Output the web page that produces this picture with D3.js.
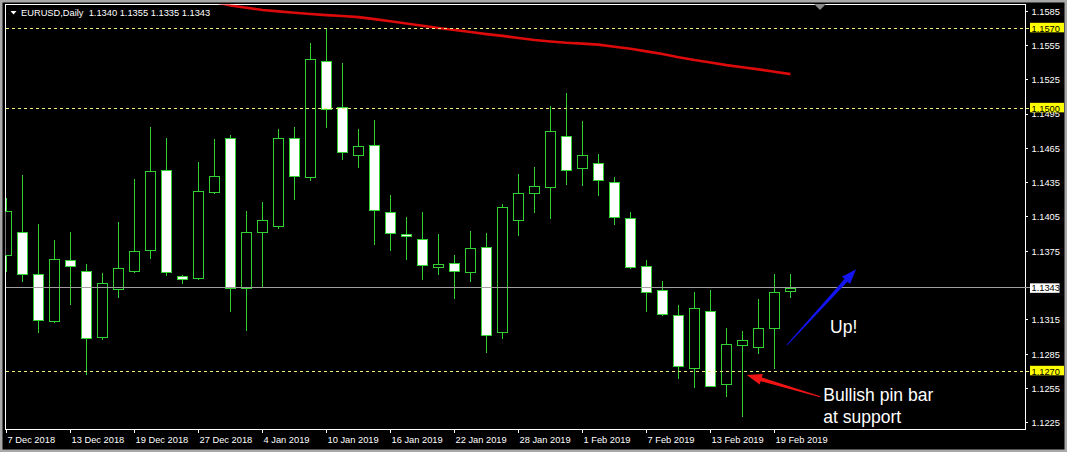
<!DOCTYPE html>
<html><head><meta charset="utf-8">
<script src="https://cdn.jsdelivr.net/npm/d3@7"></script>
<style>html,body{margin:0;padding:0;background:#000;overflow:hidden}</style>
</head><body><svg id="c" width="1067" height="452"></svg>
<script>
// ---------------- data ----------------
const symbolTitle = "EURUSD,Daily";
const lastOHLC = ["1.1340", "1.1355", "1.1335", "1.1343"];

const open  = [1.1372,1.1392,1.1355,1.1314,1.1367,1.1358,1.1300,1.1342,1.1358,1.1376,
               1.1446,1.1353,1.1352,1.1427,1.1474,1.1343,1.1392,1.1397,1.1474,1.1440,
               1.1541,1.1501,1.1459,1.1468,1.1409,1.1390,1.1386,1.1361,1.1365,1.1357,
               1.1379,1.1304,1.1402,1.1426,1.1431,1.1476,1.1448,1.1452,1.1436,1.1404,
               1.1362,1.1341,1.1319,1.1273,1.1323,1.1259,1.1293,1.1291,1.1308,1.1340];
const high  = [1.1422,1.1442,1.1399,1.1385,1.1392,1.1364,1.1356,1.1401,1.1438,1.1484,
               1.1474,1.1354,1.1453,1.1473,1.1477,1.1410,1.1418,1.1482,1.1484,1.1557,
               1.1570,1.1540,1.1482,1.1490,1.1424,1.1405,1.1409,1.1390,1.1372,1.1393,
               1.1391,1.1416,1.1443,1.1449,1.1502,1.1513,1.1489,1.1460,1.1440,1.1409,
               1.1367,1.1349,1.1328,1.1339,1.1341,1.1308,1.1305,1.1333,1.1355,1.1355];
const low   = [1.1358,1.1349,1.1304,1.1313,1.1329,1.1268,1.1298,1.1335,1.1357,1.1369,
               1.1354,1.1347,1.1351,1.1426,1.1323,1.1306,1.1344,1.1395,1.1421,1.1437,
               1.1484,1.1456,1.1449,1.1381,1.1376,1.1368,1.1351,1.1355,1.1334,1.1349,
               1.1287,1.1299,1.1389,1.1409,1.1404,1.1434,1.1433,1.1424,1.1399,1.1360,
               1.1323,1.1319,1.1264,1.1256,1.1257,1.1248,1.1231,1.1286,1.1273,1.1335];
const close = [1.1410,1.1355,1.1315,1.1368,1.1362,1.1299,1.1347,1.1360,1.1375,1.1445,
               1.1357,1.1351,1.1428,1.1441,1.1343,1.1392,1.1402,1.1474,1.1441,1.1543,
               1.1499,1.1462,1.1467,1.1411,1.1391,1.1388,1.1363,1.1364,1.1358,1.1378,
               1.1302,1.1414,1.1426,1.1432,1.1480,1.1446,1.1459,1.1437,1.1405,1.1361,
               1.1339,1.1320,1.1275,1.1325,1.1257,1.1294,1.1297,1.1308,1.1339,1.1343];

// moving average (red line), null where it is not drawn
const movingAvg = [null,null,null,null,null,null,null,null,null,null,null,null,null,
               1.1593,1.1590,1.1588,1.1586,1.15848,1.15836,1.15825,1.15815,1.15808,1.15798,
               1.15780,1.15761,1.15742,1.15723,1.15703,1.15685,1.15667,1.15649,1.15634,1.15615,
               1.15598,1.15585,1.15573,1.15566,1.15557,1.15539,1.15521,1.15498,1.15475,1.15447,
               1.15422,1.15401,1.15378,1.15359,1.15341,1.15320,1.15299];

const xTickLabels = ["7 Dec 2018","13 Dec 2018","19 Dec 2018","27 Dec 2018","4 Jan 2019",
               "10 Jan 2019","16 Jan 2019","22 Jan 2019","28 Jan 2019","1 Feb 2019",
               "7 Feb 2019","13 Feb 2019","19 Feb 2019"];
const barsPerTick = 4;
const yTicks = [1.1585,1.1555,1.1525,1.1495,1.1465,1.1435,1.1405,1.1375,1.1345,1.1315,1.1285,1.1255,1.1225];

const levels = [1.1570, 1.1500, 1.1270];   // dashed horizontal lines
const bid = 1.1343;

// annotations (bar index, price)
const arrowFrom = [[48.78, 1.1293], [50.86, 1.12478]];
const arrowTo   = [[53.10, 1.13592], [46.27, 1.12667]];
const arrowColor = ["#1414f0", "#f01414"];
const noteText = ["Up!", "Bullish pin bar", "at support"];
const notePos  = [[51.47, 1.13032], [51.05, 1.12443], [51.05, 1.12250]];

// ---------------- drawing ----------------
const W = 1067, H = 452;
const L = 5, R = 1025, T = 4, B = 429;
const GREEN = "#34d134";
const FONT = "'Liberation Sans', Arial, sans-serif";

const svg = d3.select("#c");
svg.append("rect").attr("width", W).attr("height", H).attr("fill", "#000");
// window frame
svg.append("rect").attr("x", 1).attr("y", 1).attr("width", W - 2).attr("height", H - 2)
  .attr("fill", "none").attr("stroke", "#a8a8a8").attr("stroke-width", 3);

const x = d3.scaleLinear().domain([0, open.length - 1]).range([6.5, 790.5]);
const y = d3.scaleLinear().domain([1.1270, 1.1570]).range([371.3, 28.3]);
const px = v => Math.round(v - 0.5) + 0.5;

svg.append("clipPath").attr("id", "clip").append("rect")
  .attr("x", L + 0.5).attr("y", T + 0.5).attr("width", R - L - 1).attr("height", B - T - 1);

// plot border
svg.append("rect").attr("x", L + 0.5).attr("y", T + 0.5).attr("width", R - L).attr("height", B - T)
  .attr("fill", "none").attr("stroke", "#ffffff").attr("stroke-width", 1);

const plot = svg.append("g").attr("clip-path", "url(#clip)");

// bid line
svg.append("line").attr("x1", L + 1).attr("x2", 1030).attr("y1", px(y(bid))).attr("y2", px(y(bid)))
  .attr("stroke", "#a0a0a0").attr("stroke-width", 1);

// dashed levels
svg.selectAll("line.level").data(levels).join("line").attr("class", "level")
  .attr("x1", L + 1).attr("x2", 1030)
  .attr("y1", d => px(y(d))).attr("y2", d => px(y(d)))
  .attr("stroke", "#f0f07c").attr("stroke-width", 1).attr("stroke-dasharray", "3,3");

// moving average
const maLine = d3.line().defined(i => movingAvg[i] != null).x(i => x(i)).y(i => y(movingAvg[i]));
plot.append("path").attr("d", maLine(d3.range(movingAvg.length)))
  .attr("fill", "none").attr("stroke", "#dc0a0a").attr("stroke-width", 2.6);

// candles
const idx = d3.range(open.length);
plot.selectAll("line.wick").data(idx).join("line").attr("class", "wick")
  .attr("x1", i => px(x(i))).attr("x2", i => px(x(i)))
  .attr("y1", i => Math.round(y(high[i]))).attr("y2", i => Math.round(y(low[i])) + 1)
  .attr("stroke", GREEN).attr("stroke-width", 1);
plot.selectAll("rect.body").data(idx).join("rect").attr("class", "body")
  .attr("x", i => px(x(i)) - 5).attr("width", 10)
  .attr("y", i => Math.round(y(Math.max(open[i], close[i]))) + 0.5)
  .attr("height", i => Math.max(1, Math.round(y(Math.min(open[i], close[i]))) - Math.round(y(Math.max(open[i], close[i])))))
  .attr("fill", i => close[i] >= open[i] ? "#000" : "#fff")
  .attr("stroke", GREEN).attr("stroke-width", 1);

// header
svg.append("path").attr("d", "M10.5,11 L16.5,11 L13.5,14.5 Z").attr("fill", "#fff");
svg.append("text").attr("x", 21).attr("y", 16).attr("fill", "#fff")
  .style("font-family", FONT).style("font-size", "9.3px")
  .attr("xml:space", "preserve")
  .text(symbolTitle + "  " + lastOHLC.join(" "));

// shift marker
svg.append("path").attr("d", "M814,4 L826,4 L820,10 Z").attr("fill", "#8a8a8a");

// right axis
const shownTicks = yTicks.filter(t => Math.abs(y(t) - y(bid)) > 6);
svg.selectAll("line.ytick").data(shownTicks).join("line").attr("class", "ytick")
  .attr("x1", R).attr("x2", R + 3).attr("y1", d => px(y(d))).attr("y2", d => px(y(d)))
  .attr("stroke", "#fff");
svg.selectAll("text.ylab").data(shownTicks).join("text").attr("class", "ylab")
  .attr("x", 1031.5).attr("y", d => y(d) + 3.4).attr("fill", "#fff")
  .style("font-family", FONT).style("font-size", "9.3px")
  .text(d => d.toFixed(4));

// level boxes
levels.forEach(v => {
  svg.append("rect").attr("x", 1030).attr("y", y(v) - 5.5).attr("width", 34).attr("height", 9.5).attr("fill", "#ffff00");
  svg.append("text").attr("x", 1031.5).attr("y", y(v) + 3.4).attr("fill", "#000")
    .style("font-family", FONT).style("font-size", "9.3px").text(v.toFixed(4));
});
svg.append("rect").attr("x", 1030).attr("y", y(bid) - 4.5).attr("width", 29.5).attr("height", 9.5).attr("fill", "#fff");
svg.append("text").attr("x", 1031.5).attr("y", y(bid) + 3.4).attr("fill", "#000")
  .style("font-family", FONT).style("font-size", "9.3px").text(bid.toFixed(4));

// bottom axis
const xTicks = xTickLabels.map((lab, k) => ({lab, i: k * barsPerTick}));
svg.selectAll("line.xtick").data(xTicks).join("line").attr("class", "xtick")
  .attr("x1", d => px(x(d.i))).attr("x2", d => px(x(d.i))).attr("y1", B).attr("y2", B + 4)
  .attr("stroke", "#fff");
svg.selectAll("text.xlab").data(xTicks).join("text").attr("class", "xlab")
  .attr("x", d => px(x(d.i)) + 1).attr("y", 443).attr("fill", "#fff")
  .style("font-family", FONT).style("font-size", "9.3px").text(d => d.lab);

// arrows
function arrowPts(x0, y0, x1, y1, headLen, headHalf, tailHalf, neckHalf) {
  const dx = x1 - x0, dy = y1 - y0, len = Math.hypot(dx, dy);
  const ux = dx / len, uy = dy / len, nx = -uy, ny = ux;
  const bx = x1 - ux * headLen, by = y1 - uy * headLen;
  return [[x0 + nx * tailHalf, y0 + ny * tailHalf], [bx + nx * neckHalf, by + ny * neckHalf],
          [bx + nx * headHalf, by + ny * headHalf], [x1, y1],
          [bx - nx * headHalf, by - ny * headHalf], [bx - nx * neckHalf, by - ny * neckHalf],
          [x0 - nx * tailHalf, y0 - ny * tailHalf]];
}
arrowFrom.forEach((f, k) => {
  const t = arrowTo[k];
  const pts = arrowPts(x(f[0]), y(f[1]), x(t[0]), y(t[1]), 15, 5.5, 0.5, 2);
  svg.append("polygon").attr("points", pts.map(p => p.join(",")).join(" ")).attr("fill", arrowColor[k]);
});

// notes
svg.selectAll("text.note").data(noteText).join("text").attr("class", "note")
  .attr("x", (d, k) => x(notePos[k][0])).attr("y", (d, k) => y(notePos[k][1]))
  .attr("fill", "#fff").style("font-family", FONT).style("font-size", "17.5px")
  .text(d => d);
</script>
</body></html>
